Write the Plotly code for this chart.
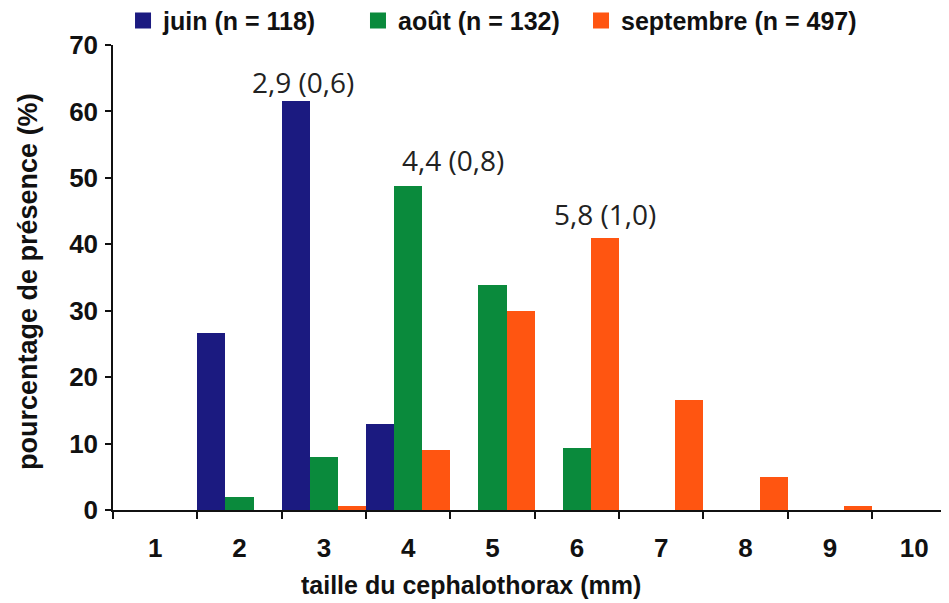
import plotly.graph_objects as go

categories = ["1", "2", "3", "4", "5", "6", "7", "8", "9", "10"]
juin = [0, 26.6, 61.5, 12.9, 0, 0, 0, 0, 0, 0]
aout = [0, 2.0, 8.0, 48.8, 33.8, 9.3, 0, 0, 0, 0]
septembre = [0, 0, 0.6, 9.0, 29.9, 41.0, 16.6, 4.9, 0.65, 0]

series_names = ["juin (n = 118)", "août (n = 132)", "septembre (n = 497)"]
series_colors = ["#1B1A80", "#0A8A3C", "#FF5511"]
series_values = [juin, aout, septembre]
legend_ids = ["legend", "legend2", "legend3"]
legend_x = [0.012, 0.2934, 0.5605]

# annotations: (series index, category, text)
mean_labels = [(0, "3", "2,9 (0,6)"), (1, "4", "4,4 (0,8)"), (2, "6", "5,8 (1,0)")]
mean_label_shifts = [(-21, 19), (45, 26), (28, 24)]

y_ticks = [0, 10, 20, 30, 40, 50, 60, 70]

BOLD = dict(family="Liberation Sans, Arial, sans-serif", color="#111111", weight="bold")

fig = go.Figure()
for name, color, vals in zip(series_names, series_colors, series_values):
    fig.add_trace(go.Bar(x=categories, y=vals, name=name, marker=dict(color=color, line=dict(width=0)),
                         showlegend=False))
for name, color, lid in zip(series_names, series_colors, legend_ids):
    fig.add_trace(go.Scatter(x=[None], y=[None], mode="markers", name=name, legend=lid,
                             marker=dict(symbol="square", size=17, color=color)))

for (si, cat, txt), (dx, dy) in zip(mean_labels, mean_label_shifts):
    idx = categories.index(cat)
    fig.add_annotation(x=idx, y=series_values[si][idx], text=txt, showarrow=False,
                       xanchor="center", yanchor="middle", xshift=dx, yshift=dy,
                       font=dict(family="Open Sans, sans-serif", size=28, color="#222222"))

fig.add_annotation(xref="paper", yref="paper", x=0.4287, y=-0.161, text="taille du cephalothorax (mm)",
                   showarrow=False, xanchor="center", yanchor="middle", font=dict(size=25, **BOLD))
fig.add_annotation(xref="paper", yref="paper", x=-0.1018, y=0.4925, text="pourcentage de présence (%)",
                   showarrow=False, xanchor="center", yanchor="middle", textangle=-90,
                   font=dict(size=27, **BOLD))

legend_common = dict(orientation="h", xanchor="left", y=1.052, yanchor="middle",
                     font=dict(size=25, **BOLD), itemwidth=30, bgcolor="rgba(0,0,0,0)")

fig.update_layout(
    width=941, height=595,
    margin=dict(l=105, r=1, t=37, b=93, autoexpand=False),
    paper_bgcolor="white", plot_bgcolor="white",
    barmode="group", bargap=0, bargroupgap=0,
    legend=dict(x=legend_x[0], **legend_common),
    legend2=dict(x=legend_x[1], **legend_common),
    legend3=dict(x=legend_x[2], **legend_common),
    xaxis=dict(type="category", range=[-0.5, 9.4], tickson="boundaries", ticks="outside", ticklen=7,
               tickwidth=1.5, tickcolor="#111111", showline=True, linecolor="#111111", linewidth=1.5,
               showgrid=False, zeroline=False, ticklabelstandoff=14, automargin=False,
               tickfont=dict(size=26, **BOLD)),
    yaxis=dict(range=[0, 70], tickvals=y_ticks, ticks="outside", ticklen=6, tickwidth=1.5,
               tickcolor="#111111", showline=True, linecolor="#111111", linewidth=1.5,
               showgrid=False, zeroline=False, ticklabelstandoff=2, automargin=False,
               tickfont=dict(size=26, **BOLD)),
)

fig.write_html("out.html")
